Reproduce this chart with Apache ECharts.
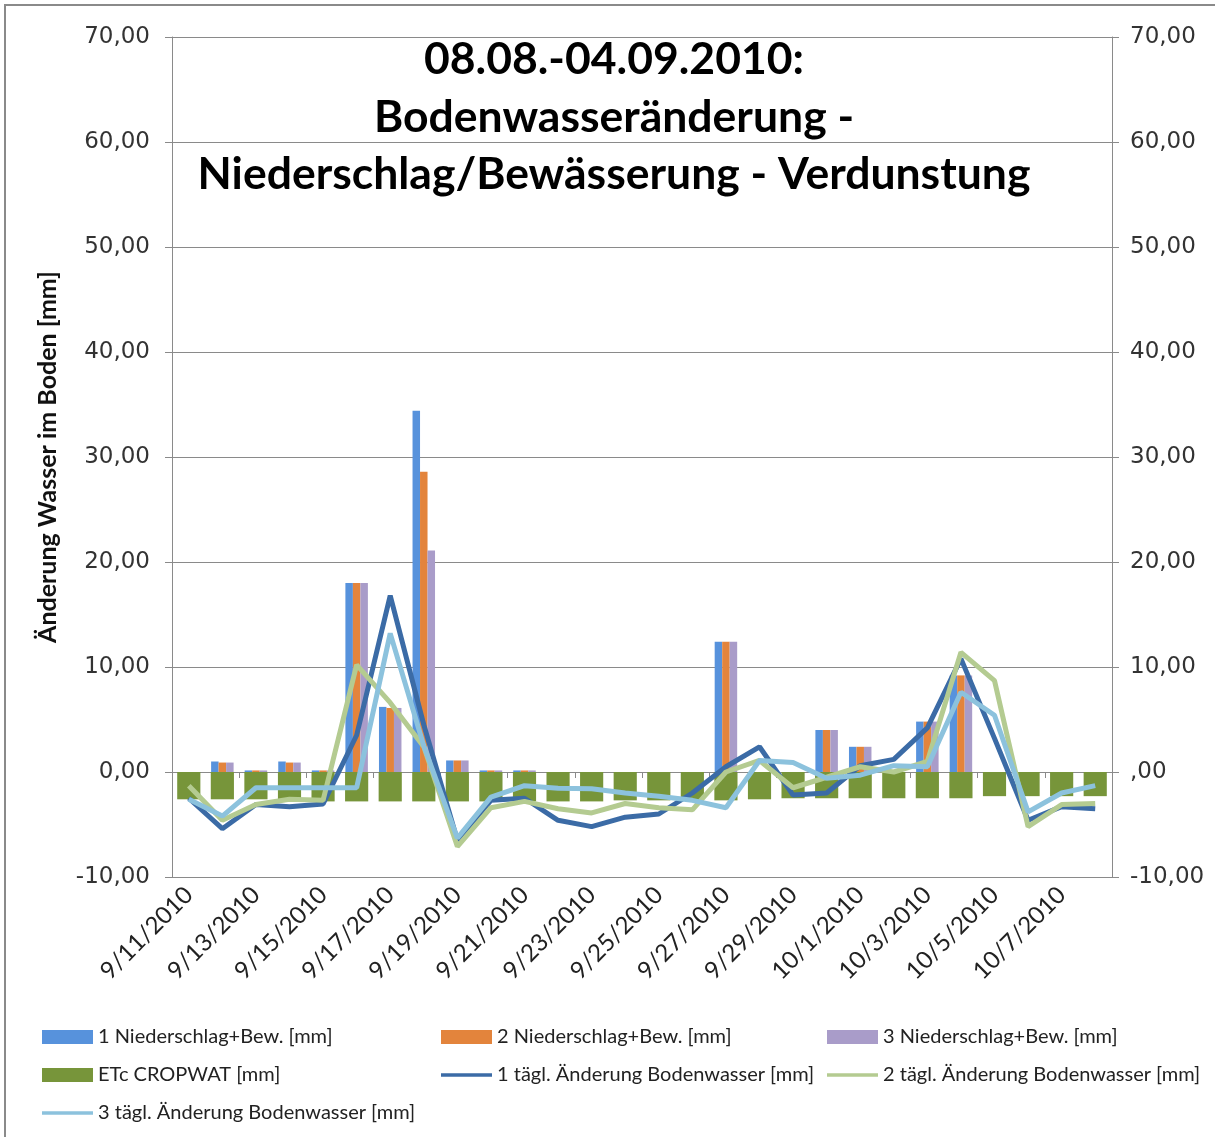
<!DOCTYPE html>
<html>
<head>
<meta charset="utf-8">
<script src="https://cdn.jsdelivr.net/npm/echarts@6/dist/echarts.min.js"></script>
<style>
  html, body { margin: 0; padding: 0; background: #fff; }
  #chart { width: 1215px; height: 1137px; }
</style>
</head>
<body>
<div id="chart"></div>
<script>
// Tage
const days = [
  '9/11/2010', '9/12/2010', '9/13/2010', '9/14/2010', '9/15/2010', '9/16/2010', '9/17/2010',
  '9/18/2010', '9/19/2010', '9/20/2010', '9/21/2010', '9/22/2010', '9/23/2010', '9/24/2010',
  '9/25/2010', '9/26/2010', '9/27/2010', '9/28/2010', '9/29/2010', '9/30/2010', '10/1/2010',
  '10/2/2010', '10/3/2010', '10/4/2010', '10/5/2010', '10/6/2010', '10/7/2010', '10/8/2010'
];

// Niederschlag + Bewässerung [mm]
const rain1 = [0, 1.0, 0.15, 1.0, 0.15, 18.0, 6.2, 34.4, 1.1, 0.15, 0.15, 0, 0, 0, 0, 0, 12.4, 0, 0, 4.0, 2.4, 0, 4.8, 9.2, 0, 0, 0, 0];
const rain2 = [0, 0.9, 0.15, 0.9, 0.15, 18.0, 6.1, 28.6, 1.1, 0.15, 0.15, 0, 0, 0, 0, 0, 12.4, 0, 0, 4.0, 2.4, 0, 4.8, 9.2, 0, 0, 0, 0];
const rain3 = [0, 0.9, 0.15, 0.9, 0.15, 18.0, 6.1, 21.1, 1.1, 0.15, 0.15, 0, 0, 0, 0, 0, 12.4, 0, 0, 4.0, 2.4, 0, 4.8, 9.2, 0, 0, 0, 0];

// ETc CROPWAT [mm]
const etc = [-2.6, -2.6, -2.6, -2.6, -2.8, -2.8, -2.8, -2.8, -2.8, -2.8, -2.8, -2.8, -2.8, -2.7,
  -2.7, -2.7, -2.7, -2.6, -2.5, -2.5, -2.5, -2.5, -2.5, -2.5, -2.3, -2.3, -2.3, -2.3];

// tägl. Änderung Bodenwasser [mm]
const soil1 = [-2.5, -5.4, -3.1, -3.3, -3.05, 3.5, 16.8, 4.5, -6.5, -2.7, -2.5, -4.6, -5.2, -4.3,
  -4.0, -2.0, 0.5, 2.4, -2.2, -2.0, 0.6, 1.2, 4.2, 10.8, 3.2, -4.6, -3.3, -3.5];
const soil2 = [-1.3, -4.6, -3.1, -2.6, -2.7, 10.2, 6.6, 2.4, -7.1, -3.4, -2.8, -3.5, -3.9, -3.0,
  -3.4, -3.6, 0.0, 1.1, -1.5, -0.5, 0.5, 0.0, 1.0, 11.4, 8.7, -5.2, -3.1, -3.0];
const soil3 = [-2.6, -4.2, -1.5, -1.5, -1.5, -1.5, 13.2, 2.5, -6.3, -2.4, -1.3, -1.55, -1.6, -2.0,
  -2.3, -2.7, -3.4, 1.1, 0.9, -0.6, -0.3, 0.6, 0.5, 7.6, 5.4, -3.8, -2.0, -1.3];

const titleLines = ['08.08.-04.09.2010:', 'Bodenwasseränderung -', 'Niederschlag/Bewässerung - Verdunstung'];

const names = {
  r1: '1 Niederschlag+Bew. [mm]',
  r2: '2 Niederschlag+Bew. [mm]',
  r3: '3 Niederschlag+Bew. [mm]',
  etc: 'ETc CROPWAT [mm]',
  s1: '1 tägl. Änderung Bodenwasser [mm]',
  s2: '2 tägl. Änderung Bodenwasser [mm]',
  s3: '3 tägl. Änderung Bodenwasser [mm]'
};

const gridColor = '#8a8a8a';
const labelFont = { color: '#333', fontFamily: 'DejaVu Sans', fontSize: 23 };
const fmt = v => v.toFixed(2).replace('.', ',');
// flat line as legend icon for the line series
const lineIcon = 'path://M0,0L51,0L51,3.5L0,3.5Z';

const chart = echarts.init(document.getElementById('chart'), null, { renderer: 'canvas' });

const legendBase = {
  orient: 'vertical', top: 1022, itemWidth: 51, itemHeight: 14, itemGap: 18,
  symbolKeepAspect: true,
  textStyle: { color: '#222', fontFamily: 'Lato', fontSize: 20 }, selectedMode: false
};

chart.setOption({
  animation: false,
  backgroundColor: '#fff',
  graphic: [
    { type: 'rect', shape: { x: 5, y: 5, width: 1215, height: 1140 }, style: { fill: 'none', stroke: '#8a8a8a', lineWidth: 2 }, z: -1 },
    ...titleLines.map((t, i) => ({
      type: 'text', x: 614, y: 60 + i * 57.5, z: 10,
      style: { text: t, font: 'bold 44.5px Lato', fill: '#000', align: 'center', verticalAlign: 'middle' }
    }))
  ],
  grid: { left: 172, right: 103, top: 37, bottom: 260 },
  legend: [
    Object.assign({ left: 37, data: [
      { name: names.r1, icon: 'rect' }, { name: names.etc, icon: 'rect' }, { name: names.s3, icon: lineIcon }
    ] }, legendBase),
    Object.assign({ left: 436, data: [
      { name: names.r2, icon: 'rect' }, { name: names.s1, icon: lineIcon }
    ] }, legendBase),
    Object.assign({ left: 822, data: [
      { name: names.r3, icon: 'rect' }, { name: names.s2, icon: lineIcon }
    ] }, legendBase)
  ],
  xAxis: [
    {
      type: 'category', data: days,
      axisLine: { onZero: true, onZeroAxisIndex: 0, lineStyle: { color: gridColor, width: 1 } },
      axisTick: { show: true, interval: 1, inside: false, length: 6, lineStyle: { color: gridColor } },
      axisLabel: { show: false }
    },
    {
      type: 'category', data: days, position: 'bottom',
      axisLine: { show: false, onZero: false },
      axisTick: { show: false },
      axisLabel: { interval: 1, rotate: 45, margin: 14, color: '#222', fontFamily: 'Lato', fontSize: 24 }
    }
  ],
  yAxis: [
    {
      type: 'value', min: -10, max: 70, interval: 10,
      name: 'Änderung Wasser im Boden [mm]', nameLocation: 'middle', nameGap: 112,
      nameTextStyle: { color: '#111', fontFamily: 'Lato', fontWeight: 'bold', fontSize: 25 },
      axisLine: { show: true, lineStyle: { color: gridColor } },
      axisTick: { show: true, length: 7, lineStyle: { color: gridColor } },
      axisLabel: Object.assign({ margin: 22, formatter: fmt }, labelFont),
      splitLine: { show: true, lineStyle: { color: gridColor, width: 1 } }
    },
    {
      type: 'value', min: -10, max: 70, interval: 10, position: 'right',
      axisLine: { show: true, lineStyle: { color: gridColor } },
      axisTick: { show: true, length: 7, lineStyle: { color: gridColor } },
      axisLabel: Object.assign({ margin: 18, formatter: v => v === 0 ? ',00' : fmt(v) }, labelFont),
      splitLine: { show: false }
    }
  ],
  series: [
    { name: names.r1, type: 'bar', data: rain1, xAxisIndex: 0, yAxisIndex: 0, barGap: '0%', barCategoryGap: '33%', itemStyle: { color: '#5792dc' } },
    { name: names.r2, type: 'bar', data: rain2, xAxisIndex: 0, yAxisIndex: 0, itemStyle: { color: '#e3843c' } },
    { name: names.r3, type: 'bar', data: rain3, xAxisIndex: 0, yAxisIndex: 0, itemStyle: { color: '#a99cc9' } },
    { name: names.etc, type: 'bar', data: etc, xAxisIndex: 1, yAxisIndex: 1, barCategoryGap: '31%', itemStyle: { color: '#77953a' } },
    { name: names.s1, type: 'line', data: soil1, xAxisIndex: 0, yAxisIndex: 0, symbol: 'none', z: 5, lineStyle: { color: '#3b6ba6', width: 5 }, itemStyle: { color: '#3b6ba6' } },
    { name: names.s2, type: 'line', data: soil2, xAxisIndex: 0, yAxisIndex: 0, symbol: 'none', z: 5, lineStyle: { color: '#b4cb91', width: 5 }, itemStyle: { color: '#b4cb91' } },
    { name: names.s3, type: 'line', data: soil3, xAxisIndex: 0, yAxisIndex: 0, symbol: 'none', z: 5, lineStyle: { color: '#8cc2dd', width: 5 }, itemStyle: { color: '#8cc2dd' } }
  ]
});
</script>
</body>
</html>
